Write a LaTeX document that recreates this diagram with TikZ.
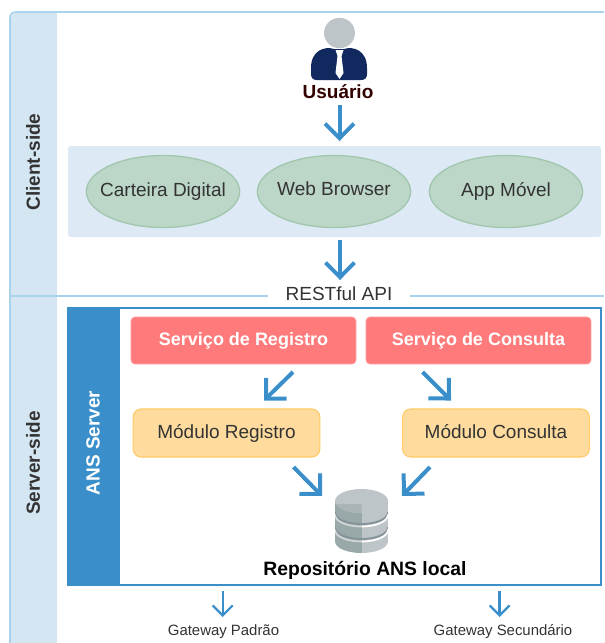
\documentclass[tikz,border=0pt]{standalone}
\usepackage{fontspec}
\setmainfont{Liberation Sans}
\usetikzlibrary{arrows.meta,shapes.geometric}
\definecolor{framec}{HTML}{A9D3EC}
\definecolor{bandc}{HTML}{D5E6F3}
\definecolor{panelc}{HTML}{DDEAF6}
\definecolor{ansc}{HTML}{3A8FCB}
\definecolor{ellc}{HTML}{BCD6C8}
\definecolor{elld}{HTML}{A2C7AE}
\definecolor{redc}{HTML}{FF7B7B}
\definecolor{redd}{HTML}{FF9090}
\definecolor{yelc}{HTML}{FFDC9E}
\definecolor{yeld}{HTML}{FFC966}
\definecolor{navyc}{HTML}{12295F}
\definecolor{txtc}{HTML}{333333}
\definecolor{dbl}{HTML}{BEC5C8}
\definecolor{dbd}{HTML}{99A8A8}
\definecolor{dbs}{HTML}{84949A}
\tikzset{
  fsA/.style={font=\fontsize{14.25}{16}\selectfont,text height=10.5pt,text depth=3pt},
  appnode/.style={ellipse,draw=elld,fill=ellc,line width=1pt,minimum width=115pt,minimum height=54pt,inner xsep=-12pt,inner ysep=0pt,text=txtc,fsA},
  svcnode/.style={rectangle,rounded corners=3pt,draw=redd,fill=redc,line width=.8pt,minimum width=168.5pt,minimum height=35pt,inner sep=0pt,text=white,font=\fontsize{13.5}{16}\selectfont\bfseries,text height=10pt,text depth=3pt},
  modnode/.style={rectangle,rounded corners=6pt,draw=yeld,fill=yelc,line width=.8pt,minimum width=140pt,minimum height=36pt,inner sep=0pt,text=txtc,fsA},
  sidelabel/.style={rotate=90,inner sep=0pt,text=txtc,font=\fontsize{14.25}{16}\selectfont\bfseries},
  plainlabel/.style={inner sep=0pt},
  bigarrow/.style={draw=ansc,line width=3pt,-{Straight Barb[length=10.9pt,width=21.75pt]}},
  smallarrow/.style={draw=ansc,line width=1.7pt,-{Straight Barb[length=7.5pt,width=15pt]}},
  framerule/.style={draw=framec,line width=1.2pt},
}
\begin{document}
\begin{tikzpicture}[x=0.75pt,y=-0.75pt]
\useasboundingbox (0,0) rectangle (604,643);
% side band and frame
\fill[bandc] (10,643) -- (10,18) .. controls (10,14) and (12,12) .. (16,12) -- (57,12) -- (57,643) -- cycle;
\draw[framerule] (10,643) -- (10,18) .. controls (10,14) and (12,12) .. (16,12) -- (604,12);
\draw[framerule] (10,296) -- (268,296);
\draw[framerule] (410,296) -- (604,296);
\node[sidelabel] (clientside) at (33,162) {Client-side};
\node[sidelabel] (serverside) at (33,463) {Server-side};
% client panel
\fill[panelc,rounded corners=2pt] (68,146) rectangle (601,237);
\node[appnode] (carteira) at (163,191.5) {Carteira Digital};
\node[appnode] (browser) at (334,191.5) {\raisebox{1pt}{Web Browser}};
\node[appnode] (appmovel) at (506,191.5) {App Móvel};
% user
\fill[navyc] (334,49) .. controls (325,46) and (311,50) .. (311,68) -- (311,74) .. controls (311,78) and (313,80) .. (317,80) -- (361,80) .. controls (365,80) and (367,78) .. (367,74) -- (367,68) .. controls (367,50) and (353,46) .. (344,49) -- cycle;
\fill[white] (335.5,50) -- (343.5,50) -- (341.5,56) -- (343.5,73) -- (339.5,79) -- (335.5,73) -- (337.5,56) -- cycle;
\fill[dbl] (339.5,33) ellipse [x radius=11.6pt,y radius=11.4pt];
\node[plainlabel,text=black!80!red,font=\fontsize{14.25}{16}\selectfont\bfseries] (usuario) at (338,92) {Usuário};
\coordinate (a1s) at (339.5,105);
\coordinate (a1e) at (339.5,141);
\draw[bigarrow] (a1s) -- (a1e);
\coordinate (a2s) at (340,240);
\coordinate (a2e) at (340,280);
\draw[bigarrow] (a2s) -- (a2e);
\node[plainlabel,text=txtc,fsA] (rest) at (339,295) {RESTful API};
% server
\draw[draw=ansc,line width=.85pt] (68,308) rectangle (601,585);
\fill[ansc] (68,308) rectangle (120,585);
\node[sidelabel,text=white] (ansserver) at (93,443) {ANS Server};
\node[svcnode] (sreg) at (243.5,340.5) {Serviço de Registro};
\node[svcnode] (scon) at (478.5,340.5) {Serviço de Consulta};
\node[modnode] (mreg) at (226.5,433) {Módulo Registro};
\node[modnode] (mcon) at (496,433) {Módulo Consulta};
\coordinate (d1s) at (293,372);
\coordinate (d1e) at (264,400.5);
\coordinate (d2s) at (422.5,372);
\coordinate (d2e) at (451,400.5);
\coordinate (d3s) at (293.5,467);
\coordinate (d3e) at (322,496);
\coordinate (d4s) at (430,467);
\coordinate (d4e) at (402,496);
\draw[bigarrow] (d1s) -- (d1e);
\draw[bigarrow] (d2s) -- (d2e);
\draw[bigarrow] (d3s) -- (d3e);
\draw[bigarrow] (d4s) -- (d4e);
% database
\begin{scope}
\clip (335,501) -- (335,541) .. controls (335,549) and (349,553) .. (361.5,553) .. controls (374,553) and (388,549) .. (388,541) -- (388,501) -- cycle;
\fill[dbd] (335,489) rectangle (361.5,553);
\fill[dbl] (361.5,489) rectangle (388,553);
\foreach \yy in {513,528}{
  \draw[dbs,line width=1.4pt] (335,\yy-1) .. controls (335,\yy+7) and (349,\yy+11) .. (361.5,\yy+11) .. controls (374,\yy+11) and (388,\yy+7) .. (388,\yy-1);
  \begin{scope}
  \clip (335,489) rectangle (361.5,553);
  \draw[dbl!70!white,line width=1.3pt] (335,\yy+1.5) .. controls (335,\yy+9.5) and (349,\yy+13.5) .. (361.5,\yy+13.5);
  \end{scope}
  \draw[white,line width=1.3pt] (361.5,\yy+13.5) .. controls (374,\yy+13.5) and (388,\yy+9.5) .. (388,\yy+1.5);
}
\end{scope}
\fill[dbl] (361.5,501) ellipse [x radius=19.9pt,y radius=9pt];
\begin{scope}
\clip (335,504) rectangle (361.5,514);
\fill[dbd!60!dbl] (361.5,501) ellipse [x radius=19.9pt,y radius=9pt];
\end{scope}
\node[plainlabel,text=black,font=\fontsize{14.5}{16}\selectfont\bfseries] (repo) at (365,570) {Repositório ANS local};
% gateways
\coordinate (g1s) at (222.7,591);
\coordinate (g1e) at (222.7,617);
\coordinate (g2s) at (499.6,591);
\coordinate (g2e) at (499.6,617);
\draw[smallarrow] (g1s) -- (g1e);
\draw[smallarrow] (g2s) -- (g2e);
\node[plainlabel,text=txtc,font=\fontsize{11.2}{13}\selectfont] (gw1) at (223.5,632) {Gateway Padrão};
\node[plainlabel,text=txtc,font=\fontsize{11.2}{13}\selectfont] (gw2) at (503,632) {Gateway Secundário};
\end{tikzpicture}
\end{document}
